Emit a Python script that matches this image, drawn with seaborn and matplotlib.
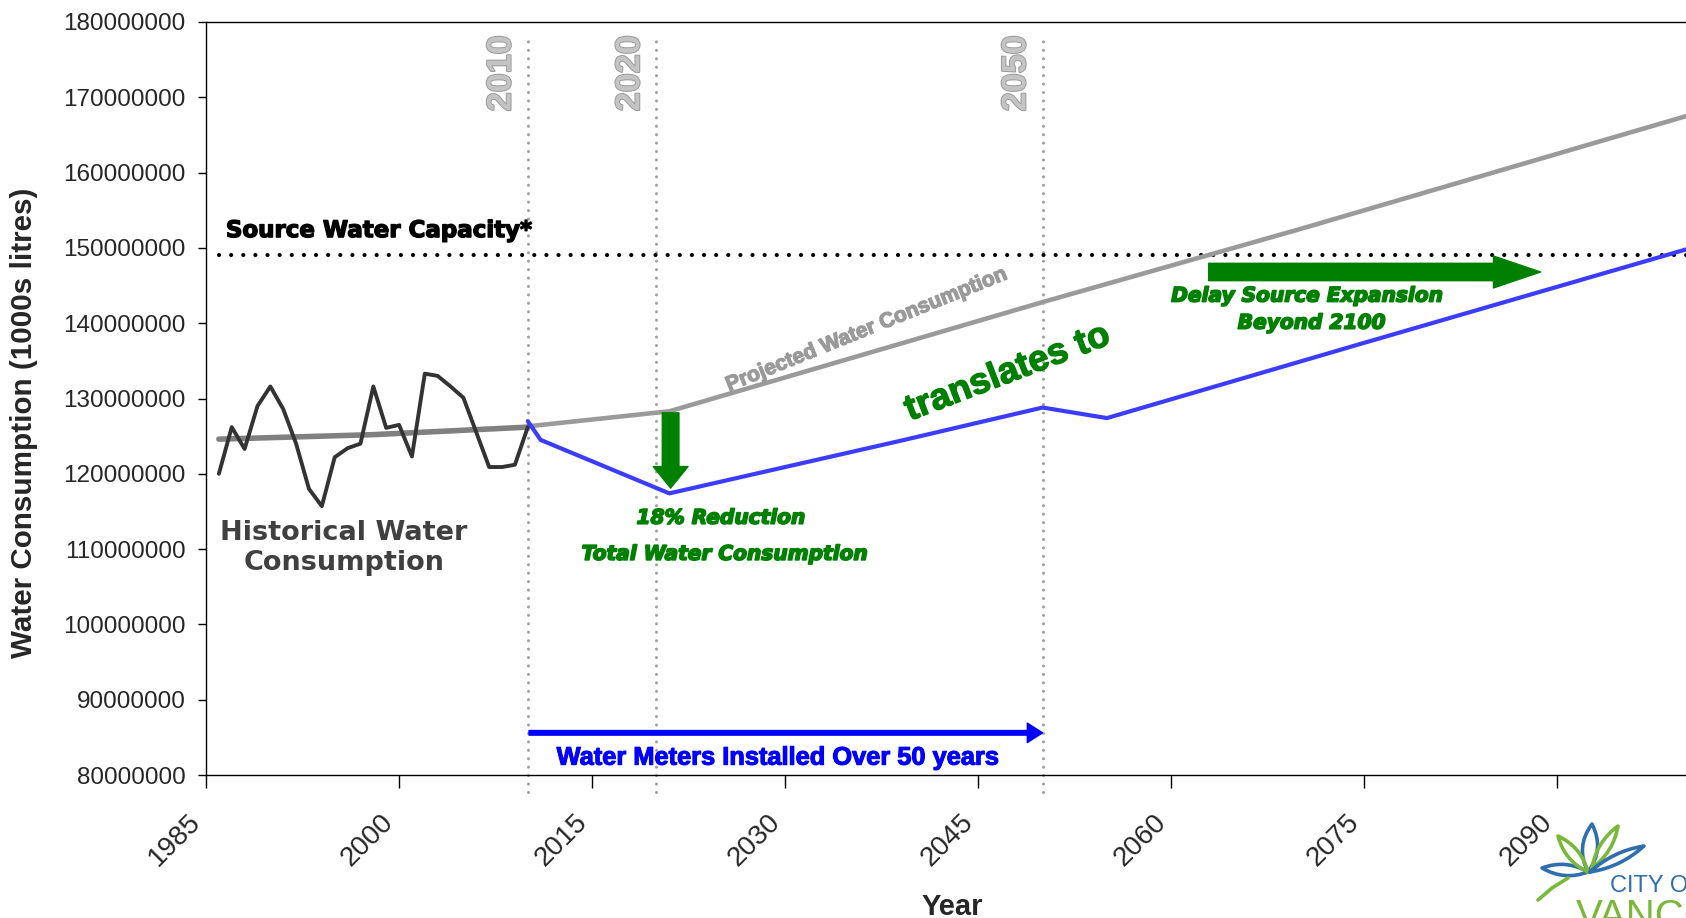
import matplotlib
matplotlib.use("Agg")
import numpy as np
import pandas as pd
import matplotlib.pyplot as plt
import seaborn as sns
from matplotlib import font_manager
from matplotlib import patheffects as pe
from matplotlib.path import Path
from matplotlib.patches import PathPatch
from matplotlib.ticker import FuncFormatter

# ---------------------------------------------------------------------------
# Data (water consumption in millions of 1000s-litres)
# ---------------------------------------------------------------------------
hist_years = list(range(1986, 2011))
hist_m = [120.0, 126.2, 123.3, 129.0, 131.6, 128.6, 124.0, 118.0, 115.7, 122.2,
          123.4, 124.0, 131.6, 126.1, 126.5, 122.3, 133.3, 133.0, 131.6, 130.1,
          125.5, 120.9, 120.9, 121.2, 126.2]

trend_years = [1986, 1998, 2004, 2010]
trend_m = [124.6, 125.2, 125.7, 126.2]

proj_years = [2010, 2021, 2050, 2070, 2100]
proj_m = [126.3, 128.3, 142.8, 152.5, 167.5]

meter_years = [2010, 2011, 2021, 2039, 2050, 2055, 2075, 2100]
meter_m = [127.0, 124.5, 117.4, 124.4, 128.8, 127.4, 137.4, 149.8]

capacity_m = 149.1
capacity_span = [1986, 2101]

milestones = [2010, 2020, 2050]
x_ticks = [1985, 2000, 2015, 2030, 2045, 2060, 2075, 2090]
y_ticks_m = [80, 90, 100, 110, 120, 130, 140, 150, 160, 170, 180]

reduction_year = 2021.1
reduction_from_m, reduction_to_m = 128.1, 118.1
delay_years = [2062.9, 2088.7]
delay_m = 146.8
meters_years = [2010.1, 2050.0]
meters_m = 85.6

M = 1e6

# ---------------------------------------------------------------------------
# Styling
# ---------------------------------------------------------------------------
sns.set_theme(style="white")
plt.rcParams["font.family"] = ["Liberation Sans", "DejaVu Sans"]

available = {f.name for f in font_manager.fontManager.ttflist}
if "Liberation Sans Narrow" in available:
    NARROW, K = "Liberation Sans Narrow", 1.0
else:
    NARROW, K = "Liberation Sans", 0.82   # regular width: shrink to keep text lengths


def fs(size):
    return size * K


HEAVY = "DejaVu Sans"

GREEN = "#008000"
BLUE_LINE = "#3c3cff"
BLUE_TEXT = "#0000ff"
HIST = "#333333"
TREND = "#808080"
PROJ = "#9a9a9a"
GUIDE = "#a0a0a0"

W, H = 1686, 918
fig = plt.figure(figsize=(W / 100, H / 100), dpi=100)
fig.patch.set_facecolor("white")

# axes from x=206px to ~1699px, y=22px to 775px (top-origin)
ax = fig.add_axes([206 / W, 1 - 775 / H, 1493 / W, 753 / H])
ax.set_facecolor("white")

hist_df = pd.DataFrame({"year": hist_years, "value": np.array(hist_m) * M})
trend_df = pd.DataFrame({"year": trend_years, "value": np.array(trend_m) * M})
proj_df = pd.DataFrame({"year": proj_years, "value": np.array(proj_m) * M})
meter_df = pd.DataFrame({"year": meter_years, "value": np.array(meter_m) * M})

# milestone guide lines
for yr in milestones:
    ax.plot([yr, yr], [77.8 * M, 178.0 * M], color=GUIDE, lw=2.2,
            linestyle=(0, (0.01, 2.75)), dash_capstyle="round", clip_on=False, zorder=1)
    ax.annotate(str(yr), xy=(yr, 1.0), xycoords=("data", "axes fraction"),
                xytext=(-18.5, -37), textcoords="offset points",
                rotation=90, ha="center", va="center", fontsize=fs(30),
                fontfamily=NARROW, fontweight="bold", color="#c4c4c4",
                path_effects=[pe.withStroke(linewidth=1.4, foreground="#9a9a9a")],
                annotation_clip=False, zorder=2)

# source water capacity
ax.plot(capacity_span, [capacity_m * M] * 2, color="black", lw=3.0,
        linestyle=(0, (0.01, 2.9)), dash_capstyle="round", clip_on=False, zorder=3)

sns.lineplot(data=proj_df, x="year", y="value", ax=ax, color=PROJ, lw=3.3, zorder=4)
sns.lineplot(data=trend_df, x="year", y="value", ax=ax, color=TREND, lw=4.0, zorder=5)
sns.lineplot(data=hist_df, x="year", y="value", ax=ax, color=HIST, lw=2.8, zorder=6)
sns.lineplot(data=meter_df, x="year", y="value", ax=ax, color=BLUE_LINE, lw=3.0, zorder=7)

# arrows
ax.annotate("", xy=(reduction_year, reduction_to_m * M),
            xytext=(reduction_year, reduction_from_m * M),
            arrowprops=dict(arrowstyle="simple,head_length=1.55,head_width=2.5,tail_width=1.2",
                            fc=GREEN, ec=GREEN, mutation_scale=10, shrinkA=0, shrinkB=0),
            zorder=8)
ax.annotate("", xy=(delay_years[1], delay_m * M), xytext=(delay_years[0], delay_m * M),
            arrowprops=dict(arrowstyle="simple,head_length=3.4,head_width=2.3,tail_width=1.25",
                            fc=GREEN, ec=GREEN, mutation_scale=10, shrinkA=0, shrinkB=0),
            zorder=8)
ax.annotate("", xy=(meters_years[1], meters_m * M), xytext=(meters_years[0], meters_m * M),
            arrowprops=dict(arrowstyle="simple,head_length=1.1,head_width=1.4,tail_width=0.33",
                            fc=BLUE_TEXT, ec=BLUE_TEXT, mutation_scale=10, shrinkA=0, shrinkB=0),
            zorder=8)

# annotations
ax.text(1998.4, 152.3 * M, "Source Water Capacity*", ha="center", va="center",
        fontsize=16.5, fontfamily=HEAVY, fontweight="bold", color="black",
        path_effects=[pe.withStroke(linewidth=1.0, foreground="black")], zorder=9)
ax.text(1995.7, 110.1 * M, "Historical Water\nConsumption", ha="center", va="center",
        multialignment="center", linespacing=1.2, fontsize=19.5, fontfamily=HEAVY,
        fontweight="bold", color="#404040", zorder=9)
heavy_green = [pe.withStroke(linewidth=1.2, foreground=GREEN)]
ax.text(2025.0, 114.1 * M, "18% Reduction", ha="center", va="center", fontsize=14.5,
        fontfamily=HEAVY, fontweight="bold", fontstyle="italic", color=GREEN,
        path_effects=heavy_green, zorder=9)
ax.text(2025.3, 109.3 * M, "Total Water Consumption", ha="center", va="center",
        fontsize=14.5, fontfamily=HEAVY, fontweight="bold", fontstyle="italic",
        color=GREEN, path_effects=heavy_green, zorder=9)
ax.text(2070.55, 143.6 * M, "Delay Source Expansion", ha="center", va="center",
        fontsize=14.5, fontfamily=HEAVY, fontweight="bold", fontstyle="italic",
        color=GREEN, path_effects=heavy_green, zorder=9)
ax.text(2070.9, 140.0 * M, "Beyond 2100", ha="center", va="center",
        fontsize=14.5, fontfamily=HEAVY, fontweight="bold", fontstyle="italic",
        color=GREEN, path_effects=heavy_green, zorder=9)
ax.text(2047.3, 133.4 * M, "translates to", ha="center", va="center", rotation=21,
        rotation_mode="anchor", fontsize=fs(32), fontfamily=NARROW, fontweight="bold",
        color=GREEN, path_effects=[pe.withStroke(linewidth=1.0, foreground=GREEN)],
        zorder=9)
ax.text(2036.3, 139.1 * M, "Projected Water Consumption", ha="center", va="center",
        rotation=22, rotation_mode="anchor", fontsize=fs(18.5), fontfamily=NARROW,
        fontweight="bold", color=PROJ,
        path_effects=[pe.withStroke(linewidth=0.9, foreground=PROJ)], zorder=9)
ax.text(2029.4, 82.3 * M, "Water Meters Installed Over 50 years", ha="center",
        va="center", fontsize=fs(22.3), fontfamily=NARROW, fontweight="bold",
        color=BLUE_TEXT, path_effects=[pe.withStroke(linewidth=0.8, foreground=BLUE_TEXT)],
        zorder=9)

# axes, ticks and limits
ax.set_xlim(1985, 2101)
ax.set_ylim(80 * M, 180 * M)
ax.set_xticks(x_ticks)
ax.set_xticklabels([str(t) for t in x_ticks], rotation=45, ha="right", va="bottom",
                   rotation_mode="anchor", fontsize=20)
ax.set_yticks([v * M for v in y_ticks_m])
ax.yaxis.set_major_formatter(FuncFormatter(lambda v, p: f"{int(round(v))}"))
ax.tick_params(axis="y", labelsize=17.5, length=6, width=1, color="black",
               direction="out", pad=8.5, left=True)
ax.tick_params(axis="x", length=9, width=1, color="black", direction="out",
               pad=29, bottom=True)
for spine in ax.spines.values():
    spine.set_color("black")
    spine.set_linewidth(1.0)
ax.set_xlabel("")
ax.set_ylabel("")
ax.grid(False)

fig.text(24 / W, 1 - 423 / H, "Water Consumption (1000s litres)", rotation=90,
         ha="center", va="center", fontsize=fs(26), fontfamily=NARROW, fontweight="bold")
fig.text(952 / W, 1 - 893 / H, "Year", ha="center", va="top", fontsize=fs(25.6),
         fontfamily=NARROW, fontweight="bold")

# ---------------------------------------------------------------------------
# City emblem (bottom-right corner)
# ---------------------------------------------------------------------------
logo = fig.add_axes([1530 / W, 0, 156 / W, 100 / H])
logo.set_xlim(0, 156)
logo.set_ylim(0, 100)
logo.axis("off")


def petal(base, tip, bulge, color, lw=2.6):
    bx, by = base
    tx, ty = tip
    dx, dy = tx - bx, ty - by
    nx, ny = -dy, dx
    norm = np.hypot(nx, ny)
    nx, ny = nx / norm * bulge, ny / norm * bulge
    mx, my = (bx + tx) / 2, (by + ty) / 2
    verts = [(bx, by), (mx + nx, my + ny), (tx, ty), (mx - nx, my - ny), (bx, by)]
    codes = [Path.MOVETO, Path.CURVE3, Path.CURVE3, Path.CURVE3, Path.CURVE3]
    logo.add_patch(PathPatch(Path(verts, codes), fill=False, ec=color, lw=lw,
                             capstyle="round", joinstyle="round"))


LOGO_BLUE = "#2f6faf"
LOGO_GREEN = "#7ab83a"
petal((58, 46), (62, 94), 15, LOGO_BLUE)
petal((58, 46), (12, 50), 11, LOGO_BLUE)
petal((58, 46), (28, 82), 11, LOGO_GREEN)
petal((62, 50), (88, 92), 10, LOGO_GREEN)
petal((60, 46), (114, 72), 9, LOGO_BLUE)
logo.plot([8, 22, 38], [18, 30, 40], color=LOGO_GREEN, lw=2.6, solid_capstyle="round")
logo.text(80, 26, "CITY OF", ha="left", va="baseline", fontsize=17,
          color=LOGO_BLUE, fontfamily="Liberation Sans")
logo.text(46, 20, "VANCOUVER", ha="left", va="top", fontsize=29,
          color=LOGO_GREEN, fontfamily="Liberation Sans", clip_on=False)

fig.savefig("out.png", dpi=100, facecolor="white")
